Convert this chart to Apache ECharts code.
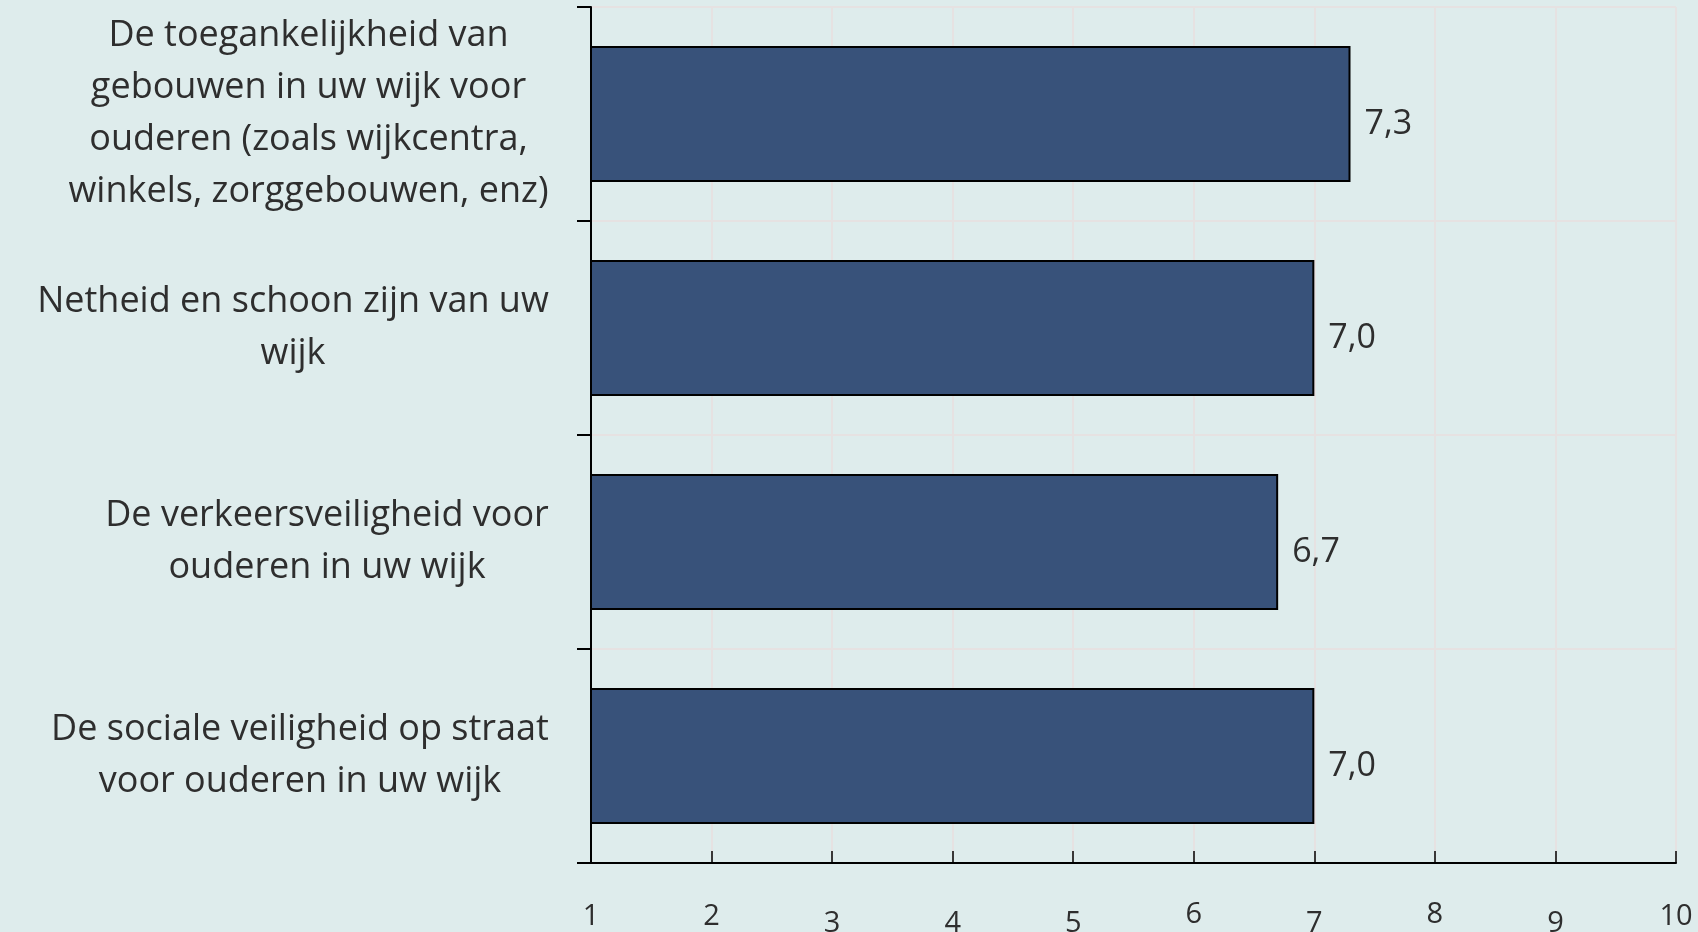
<!DOCTYPE html>
<html>
<head>
<meta charset="utf-8">
<style>
  html, body { margin: 0; padding: 0; background: #deecec; }
  #chart { width: 1698px; height: 932px; }
</style>
<script src="https://cdn.jsdelivr.net/npm/echarts@6/dist/echarts.min.js"></script>
</head>
<body>
<div id="chart"></div>
<script>
// Categories, top to bottom
const categories = [
  'De toegankelijkheid van\ngebouwen in uw wijk voor\nouderen (zoals wijkcentra,\nwinkels, zorggebouwen, enz)',
  'Netheid en schoon zijn van uw\nwijk',
  'De verkeersveiligheid voor\nouderen in uw wijk',
  'De sociale veiligheid op straat\nvoor ouderen in uw wijk'
];
// Average rating per category (scale 1–10)
const scores = [7.3, 7.0, 6.7, 7.0];
// Scale tick values
const ticks = [1, 2, 3, 4, 5, 6, 7, 8, 9, 10];

const FONT = '"Open Sans", Lato, sans-serif';
const TEXT = '#2e2e2e';
const CAT_SIZE = 36;

// Width of each category block, so its lines can be centred inside it
const ctx = document.createElement('canvas').getContext('2d');
ctx.font = CAT_SIZE + 'px ' + FONT;
const blockWidths = categories.map(c =>
  Math.ceil(Math.max(...c.split('\n').map(l => ctx.measureText(l).width))) + 2
);
const catRich = {};
blockWidths.forEach((w, i) => {
  catRich['b' + i] = {
    width: w, align: 'center', fontFamily: FONT, fontSize: CAT_SIZE,
    lineHeight: 52, color: TEXT
  };
});

// Old-style figure look: some digits sit lower, some higher
const low = '34579', high = '68';
function tickLabel(v) {
  const s = String(v);
  if (s.length === 1 && low.includes(s)) return '{lo|' + s + '}';
  if (s.length === 1 && high.includes(s)) return '{hi|' + s + '}';
  return '{md|' + s + '}';
}

const chart = echarts.init(document.getElementById('chart'), null, { renderer: 'canvas' });
chart.setOption({
  backgroundColor: '#deecec',
  animation: false,
  grid: { left: 591, right: 22, top: 7, bottom: 69, containLabel: false, outerBoundsMode: 'none' },
  xAxis: {
    type: 'value',
    min: ticks[0],
    max: ticks[ticks.length - 1],
    interval: 1,
    axisLine: { show: true, lineStyle: { color: '#000', width: 2 } },
    axisTick: { show: true, inside: true, length: 12, lineStyle: { color: '#000', width: 1.5 } },
    splitLine: { show: true, lineStyle: { color: '#e6e2e2', width: 2 } },
    axisLabel: {
      margin: 37,
      color: TEXT,
      fontFamily: FONT,
      fontSize: 29,
      formatter: tickLabel,
      rich: {
        md: { fontFamily: FONT, fontSize: 29, color: TEXT, padding: [2, 0, 0, 0] },
        lo: { fontFamily: FONT, fontSize: 29, color: TEXT, padding: [9, 0, 0, 0] },
        hi: { fontFamily: FONT, fontSize: 29, color: TEXT, padding: [0, 0, 0, 0] }
      }
    }
  },
  yAxis: {
    type: 'category',
    data: categories,
    inverse: true,
    axisLine: { show: true, lineStyle: { color: '#000', width: 2 } },
    axisTick: { show: true, length: 14, lineStyle: { color: '#000', width: 2 } },
    splitLine: { show: true, lineStyle: { color: '#e6e2e2', width: 2 } },
    axisLabel: {
      margin: 41,
      align: 'right',
      color: TEXT,
      fontFamily: FONT,
      fontSize: CAT_SIZE,
      lineHeight: 52,
      formatter: (value, index) =>
        value.split('\n').map(l => '{b' + index + '|' + l + '}').join('\n'),
      rich: catRich
    }
  },
  series: [{
    type: 'bar',
    data: scores,
    barCategoryGap: '36.5%',
    itemStyle: { color: '#38527a', borderColor: '#000', borderWidth: 2 },
    label: {
      show: true,
      position: 'right',
      distance: 14,
      offset: [0, 10],
      color: TEXT,
      fontFamily: FONT,
      fontSize: 34,
      formatter: p => p.value.toFixed(1).replace('.', ',')
    }
  }]
});
</script>
</body>
</html>
